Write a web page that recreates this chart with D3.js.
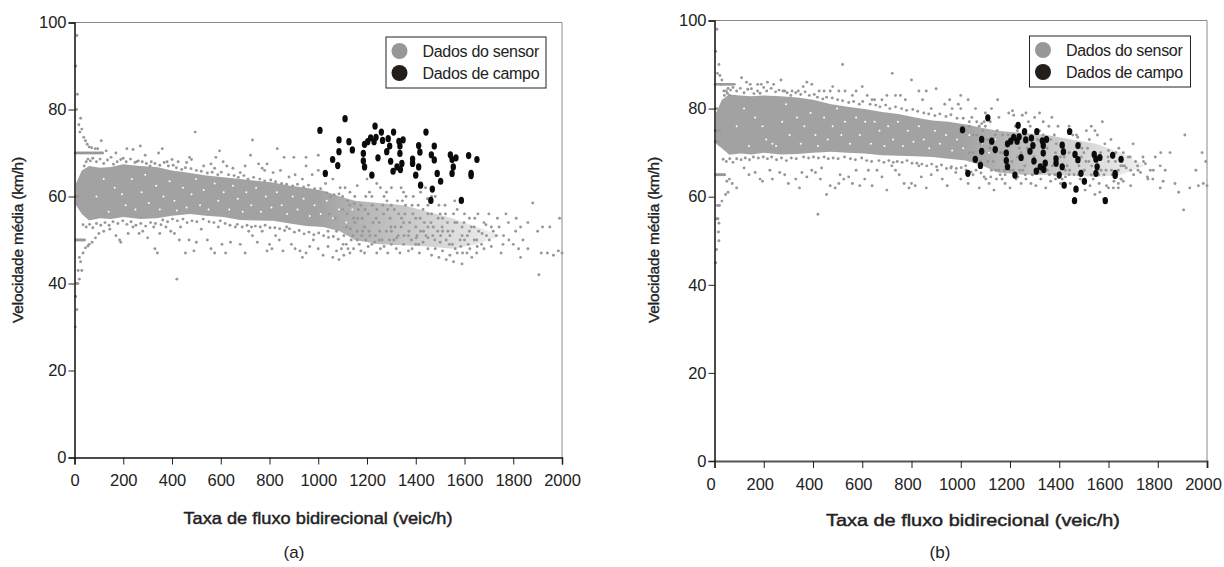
<!DOCTYPE html>
<html><head><meta charset="utf-8"><script src="https://cdn.jsdelivr.net/npm/d3@7"></script>
<style>html,body{margin:0;background:#fff}svg{display:block}text{font-family:"Liberation Sans",Arial,sans-serif;fill:#222}</style></head>
<body><svg id="c" width="1224" height="567"></svg>
<script>
const xTicks=[0,200,400,600,800,1000,1200,1400,1600,1800,2000];
const yTicks=[0,20,40,60,80,100];
const seriesNames=["Dados do sensor","Dados de campo"];
const xTitle="Taxa de fluxo bidirecional (veic/h)";
const yTitle="Velocidade média (km/h)";
const fieldData=[[1007,75.2],[1110,77.9],[1085,73],[1085,70.3],[1059,68.5],[1080,67.1],[1029,65.3],[1126,72.6],[1140,70.7],[1185,69.9],[1185,68.2],[1190,72],[1190,66.8],[1203,72.6],[1215,73.5],[1229,72.6],[1237,73.6],[1233,76.2],[1259,74.8],[1264,72.9],[1287,73.3],[1293,71.6],[1281,70.3],[1245,68.9],[1220,64.9],[1297,68.1],[1307,65.8],[1323,66.8],[1337,66.2],[1343,67.6],[1335,69.9],[1335,71.6],[1331,72.7],[1348,73],[1309,74.8],[1387,68.6],[1387,67.6],[1412,66.8],[1400,64.9],[1412,71.7],[1417,70.2],[1442,74.8],[1476,71.6],[1464,69.6],[1476,68.4],[1488,65.3],[1502,63.5],[1420,62.6],[1468,61.7],[1462,59.1],[1587,59.1],[1542,69.6],[1549,68.5],[1565,68.9],[1554,66.8],[1549,65.3],[1617,69.4],[1651,68.5],[1627,65.3],[1627,64.8]];
// saturated body of the sensor cloud, too dense to read dot by dot: flow, lower and upper speed
const coreFlow=[6,30,60,105,150,200,270,337,400,474,540,610,680,747,815,884,950,1021,1089,1150,1250,1350,1450,1550,1650,1750];
const coreLowA=[58,56,54.5,55,54.8,55.3,54.8,55,55.6,56,55.6,55.3,54.6,54.5,54.4,53.8,53.2,53,52,50,49,48.8,48.5,48,49,51];
const coreHighA=[63,66,67,66.6,66.8,67.4,67,66.8,66,65.4,64.8,64.4,64,63.6,63.2,62.5,62,61.3,60,59,58.5,58,56.5,55,53,51];
const coreLowB=[72,71,69.5,69.8,69.6,70,69.6,69.7,70,70.2,70,69.8,69.4,69.3,69.2,69,68.6,68.2,67,65.5,65,65,64.8,64.5,65,67];
const coreHighB=[79,82,83.2,83,82.8,83,82.8,82.5,82,81,80.4,79.9,79.2,78.8,78,77.3,77,76.4,75.6,75,74.5,74,73,72,70,67];
// flow where the cloud starts to thin out, and where it has become sparse
const thinFlows=[1000,1700];
// small holes visible in the saturated body: flow, speed
const gapsA=[[90,60],[120,64],[140,56.5],[165,62],[195,60.5],[210,58],[235,64],[250,57],[275,61],[290,65],[305,58.5],[335,62.5],[350,57],[365,60],[390,63.5],[410,59],[420,56.8],[445,62],[460,57.5],[480,60.5],[498,64],[515,58],[530,61.5],[550,57],[575,63],[590,59],[612,61],[635,57],[650,62.5],[670,59.5],[690,56.5],[705,61],[725,58],[745,62],[765,56.5],[785,60],[808,57.5],[830,61],[850,58],[872,56],[895,60],[915,57],[940,59.5],[965,55.5],[985,58],[1010,56],[1035,59],[1060,55],[1085,57],[1115,54],[1140,57]];
const gapsB=[[90,76],[120,80],[140,71.5],[165,78],[195,76],[210,73],[235,72],[250,71.5],[275,77],[290,81],[305,74],[335,78],[350,72],[365,76],[390,79],[410,74],[420,71.5],[445,78],[460,73],[480,76],[498,80],[515,74],[530,77],[550,72],[575,78],[590,74],[612,77],[635,72],[650,77],[670,75],[690,71.5],[705,76],[725,73],[745,77],[765,71.5],[785,75],[808,72.5],[830,76],[850,73],[872,71],[895,75],[915,72],[940,74],[965,70.5],[985,73],[1010,71],[1035,74],[1060,69],[1085,72],[1115,70],[1140,73]];
const sensorA=[[10,97],[5,90],[12,83.5],[8,80],[25,78],[18,76.5],[30,75.5],[22,74.8],[38,73.6],[45,72.8],[52,72],[60,71.4],[70,71.2],[110,72.8],[95,71],[130,70.5],[85,71],[3,70],[10,70],[17,70],[24,70],[31,70],[38,70],[45,70],[52,70],[59,70],[66,70],[73,70],[80,70],[87,70],[94,70],[101,70],[108,70],[115,70],[5,50],[11,50],[17,50],[23,50],[29,50],[35,50],[41,50],[3,60],[9,60],[15,60],[20,46],[35,47],[45,48.2],[55,48.6],[25,45],[30,43],[15,43],[20,41],[8,40],[14,40],[5,37],[10,34],[3,30],[60,49],[72,49.5],[86,50.5],[100,51.5],[120,52],[145,52.5],[170,51],[185,50],[190,49.5],[220,51.5],[240,53],[265,51.5],[280,52],[300,50.5],[330,48],[340,47],[325,53],[350,51.5],[355,53.5],[375,53],[395,52],[410,51.5],[430,50],[455,47],[435,53],[470,50],[490,47.5],[500,49.5],[520,52.5],[545,50],[560,48],[575,47],[590,53],[605,49],[620,47],[640,49.5],[660,53],[680,49],[700,47],[715,52],[730,51],[750,49.5],[770,52],[790,47.5],[800,49],[810,48],[825,51],[840,50],[855,47.5],[870,53],[890,49],[905,48],[925,47.5],[935,46],[950,47],[965,48.5],[980,50],[1000,48],[1020,46.5],[1040,48.5],[1060,46],[1075,47.5],[1085,45.5],[1095,48],[1105,46.5],[1115,49],[1130,47],[1145,48],[1160,50],[1175,47.5],[1190,47],[1205,48.5],[1220,49],[1240,47],[1255,48],[1270,48.5],[1285,47],[1300,49],[1320,48],[1335,47],[1350,49],[1370,47.5],[1385,48],[1400,49],[1415,47],[1430,49.5],[1450,48],[1465,46.5],[1480,48],[1495,46],[1510,47.5],[1525,45.5],[1540,46.5],[1555,45],[1570,47],[1590,44.5],[1610,47],[1630,46],[1650,47],[1450,50.5],[1500,49.5],[1550,49],[1600,50],[1650,50],[1680,48],[1710,48.5],[1750,47],[1800,49],[1830,46],[1860,48],[1905,42],[1915,47],[1940,47],[1965,46.5],[1985,47.5],[2000,47],[1920,53],[1950,53],[1990,55],[1880,58.5],[1900,52],[1860,54],[1830,53],[1810,52],[1780,54],[1760,51],[1735,55],[1710,53],[1690,51],[1680,54],[1655,56],[1640,53],[1620,55],[1600,56],[1590,53],[1570,57],[1560,54],[1540,51],[1520,58],[1510,55],[1490,52],[1480,60],[1465,56],[1450,53],[1430,57],[1420,52],[1400,55],[1385,58],[1370,51],[1355,56],[1340,53],[1325,59],[1310,50],[1295,55],[1280,52],[1265,58],[1250,54],[1235,51],[1220,60],[1205,56],[1190,53],[1175,58],[1160,52],[1145,55],[1130,61],[1115,53],[1100,57],[1090,62],[1075,52],[1060,64],[1050,60],[1030,63],[1000,66],[975,65],[950,67],[1390,60],[1420,61],[1450,58],[1500,56],[1530,54],[1560,59],[1590,51],[1620,52],[1640,50],[1700,56],[1670,49],[1730,51],[1770,56],[1840,50],[1120,59],[1150,60],[1180,55],[1210,61],[1240,57],[1270,60],[1300,58],[1330,56],[1360,60],[1410,58],[1440,62],[1470,51],[1510,52],[1105,51],[1135,50],[1165,57],[1195,50],[1225,54],[1255,62],[1285,57],[1315,53],[1345,59],[1375,54],[1405,51],[1435,54],[1465,60],[1495,58],[1525,50],[1555,56],[1585,48.5],[1615,49],[1070,55],[1040,52],[1045,56],[1110,62],[1160,62.5],[1200,64],[1280,61],[1300,62],[1340,62],[1350,61],[1240,63],[1195,60],[1130,58],[1150,54],[1250,50],[1300,52],[1350,54],[1400,53],[1450,56],[170,70],[215,71],[240,70.8],[255,68],[270,71.6],[290,69.5],[315,68],[345,70],[360,71],[380,68],[400,68.5],[425,68],[460,67.8],[472,69],[480,68.5],[495,74.8],[530,67],[560,67.5],[575,66.5],[580,69],[595,70.5],[610,68],[625,67],[650,66.5],[680,65.5],[700,67],[730,73],[722,69.5],[755,67.5],[770,66.5],[790,67.5],[815,65.5],[832,71],[860,69],[845,66],[900,69],[935,64],[950,69],[1000,69.5],[420,41],[780,66],[880,64.5],[905,65],[150,69],[190,68.5]];
const edgeA=[[40,67],[48,68],[55,68.6],[65,68.2],[75,68.8],[90,68],[105,68.6],[120,67.6],[135,68.4],[160,67.4],[175,68],[200,68.8],[212,68],[230,68.6],[248,67.8],[262,68.2],[278,68],[295,67.6],[310,67],[330,67.6],[350,67.2],[368,67.8],[385,67],[405,67.2],[418,66.6],[440,66.2],[455,66.6],[478,66.4],[500,66],[520,65.8],[545,65.4],[565,65.6],[588,65],[602,65.6],[632,65],[655,64.8],[672,64.4],[695,64.8],[712,64],[735,64.4],[760,64],[780,63.6],[805,63.8],[825,63.4],[850,63],[870,62.8],[895,62.4],[915,62.8],[940,62.2],[960,62.6],[985,61.8],[1010,61.8],[1035,60.8],[1065,60.4],[1085,60.6],[35,53.5],[48,53],[62,53.6],[75,52.8],[90,53.8],[108,53.4],[125,54],[142,53.4],[158,54.2],[178,53.8],[198,54.4],[215,53.6],[232,54.2],[252,53.4],[272,53.8],[292,53.2],[312,54],[332,53.8],[362,54.6],[382,54.2],[402,54.8],[422,54.4],[445,54.8],[462,54],[482,54.4],[502,54.2],[528,54.8],[552,54.2],[572,54],[598,54.4],[618,53.8],[638,53.4],[668,53.6],[688,53],[708,53.4],[726,53],[742,53.2],[762,53],[782,53.4],[802,52.8],[822,52.8],[842,52.6],[862,52.2],[882,52.6],[902,51.8],[922,52.2],[942,51.4],[962,51.8],[982,51.2],[1002,51.6],[1022,51],[1042,50.6],[1062,50.8],[1082,50.2],[1100,60],[1118,56],[1132,52.6],[1148,58.4],[1162,55],[1178,51],[1192,57],[1208,52],[1222,58],[1238,55],[1252,52],[1268,56],[1282,59],[1298,53],[1312,57],[1328,51],[1342,55],[1358,58],[1372,52],[1388,56],[1402,50.5],[1418,55],[1432,52],[1448,59.5],[1462,54],[1478,50],[1492,55],[1508,53],[1522,56],[1538,49],[1552,52],[1568,54],[1582,50],[1598,54],[1612,51],[1628,53],[1642,55],[1658,52],[1672,51.5],[1688,53.5],[1702,50],[1718,52],[1742,53],[1758,49],[1782,50],[1812,55],[1822,48],[1102,49],[1122,48],[1142,51],[1168,49],[1182,52],[1212,51],[1232,49.5],[1262,50],[1292,50],[1322,50.5],[1352,51],[1382,50],[1412,49],[1442,51],[1472,53],[1502,51],[1532,52],[1562,48],[1592,47],[1622,48],[1652,48.5]];
const sensorB=[[10,98],[5,93],[18,90],[12,88],[22,87.5],[30,86.5],[28,85.5],[38,84],[52,83.5],[60,83],[110,87],[130,86],[145,85.5],[175,85.5],[3,85.5],[10,85.5],[17,85.5],[24,85.5],[31,85.5],[38,85.5],[45,85.5],[52,85.5],[59,85.5],[66,85.5],[73,85.5],[80,85.5],[5,65],[11,65],[17,65],[23,65],[29,65],[35,65],[41,65],[3,75],[9,75],[15,75],[21,75],[3,80],[9,80],[3,72.5],[9,72.5],[15,72.5],[60,64],[50,63.5],[72,63],[90,62],[55,61],[45,60.5],[30,59],[20,58],[12,58],[8,55],[14,55],[18,54],[16,52],[18,50],[8,48],[5,45],[120,66.5],[140,65],[165,65.5],[185,64],[195,63.5],[225,66],[235,64],[265,65.5],[285,65],[300,63],[330,64],[345,62],[355,65.5],[375,64.5],[395,66],[410,65.5],[430,64],[455,60.5],[435,66.5],[470,62.5],[490,62],[505,63],[510,65],[525,64],[545,64.5],[560,63],[575,66],[590,62.5],[610,64],[625,66],[640,62.5],[660,66],[680,64.5],[700,61.5],[720,67],[735,66],[750,65],[770,63],[790,62],[800,63],[815,62.5],[830,67],[840,64.5],[860,62],[880,65],[905,66],[925,64],[945,62.5],[960,66.5],[980,65.5],[1000,64],[1030,63],[1050,65],[1075,62],[1095,64.5],[1115,63],[1135,61.5],[1145,64],[1160,65],[1180,63],[1200,62],[1225,64],[1245,63],[1265,64],[1285,63],[1305,62.5],[1325,64],[1345,62],[1365,63.5],[1385,64],[1405,63],[1425,64.5],[1445,63],[1465,62],[1485,64],[1505,61.5],[1525,62.5],[1545,60.5],[1565,61],[1580,59.5],[1600,62],[1620,62],[1640,63],[1690,62.5],[1660,63.5],[1810,62],[1870,63],[1885,61],[1905,57],[1930,62],[1965,62.5],[1985,63],[2000,62.5],[1955,66],[1980,70],[1995,68],[1910,74],[1850,70],[1830,66],[1810,67],[1790,69],[1770,66],[1750,67.5],[1730,65.5],[1710,68],[1690,66],[1680,69],[1665,67],[1650,64],[1630,70],[1615,65],[1600,68],[1585,72],[1570,66],[1555,74],[1540,69],[1530,76],[1515,71],[1500,66],[1485,72],[1470,68],[1455,74],[1440,70],[1425,66],[1410,72],[1395,76],[1380,69],[1365,73],[1350,66],[1335,71],[1320,75],[1305,68],[1290,72],[1275,77],[1260,67],[1245,70],[1230,75],[1215,78.5],[1200,72],[1185,68],[1170,74],[1155,78],[1140,70],[1125,66],[1110,73],[1095,77],[1080,68],[1065,74],[1050,70],[1035,76],[1020,67],[1575,77],[1545,75],[1510,75],[1475,73.5],[1440,76],[1405,69],[1370,78],[1335,77],[1300,78],[1265,79],[1195,79],[1150,82],[1125,80],[1100,79],[1075,76],[1060,80],[1045,78],[1030,82],[1000,83],[1610,73],[1640,66],[1660,70],[1700,72],[1740,69],[1780,64],[1590,66],[1560,69],[1530,65],[1500,70],[1470,74],[1440,65],[1410,67],[1380,74],[1350,71],[1320,67],[1290,65],[1260,74],[1230,69],[1200,66],[1170,70],[1140,74],[1110,68],[1080,72],[1050,74],[1180,65],[1240,66],[1300,66],[1360,65],[1420,69],[1480,67],[1520,68],[1600,70.5],[1650,67],[1720,66],[1760,64],[1640,62],[1560,65],[1490,69],[1385,70],[1460,65],[1335,74],[1270,71],[1215,74],[1155,66],[1090,75],[1020,75],[1035,70],[1065,68],[1120,77],[185,83.5],[215,86],[240,85.5],[270,86.5],[285,84],[315,84],[340,84],[360,85],[375,86],[395,85.5],[425,84],[445,84],[470,84],[505,84],[520,90],[530,84],[560,83],[575,84],[600,85],[620,83],[650,82],[680,82],[700,83],[722,88],[735,83],[755,83],[775,82],[800,86.5],[830,84],[845,82],[860,84],[900,84.5],[935,81],[955,82],[1000,80],[420,56],[880,80],[965,80],[150,84.5],[190,85.5],[480,85],[640,82],[990,81],[1320,79],[1210,79.5],[1250,78.5]];
const edgeB=[[40,83],[48,84],[55,84.6],[65,84.2],[75,84.8],[90,84],[105,84.6],[120,83.6],[135,84.4],[160,83.4],[175,84],[200,84.8],[212,84],[230,84.6],[248,83.8],[262,84.2],[278,84],[295,83.6],[310,83],[330,83.6],[350,83.2],[368,83.8],[385,83],[405,83.2],[418,82.6],[440,82.2],[455,82.6],[478,82.4],[500,82],[520,81.8],[545,81.4],[565,81.6],[588,81],[602,81.6],[632,81],[655,80.8],[672,80.4],[695,80.8],[712,80],[735,80.4],[760,80],[780,79.6],[805,79.8],[825,79.4],[850,79],[870,78.8],[895,78.4],[915,78.8],[940,78.2],[960,78.6],[985,77.8],[1010,77.8],[1035,77],[1065,77],[1085,76.6],[35,68.5],[48,68],[62,68.6],[75,67.8],[90,68.6],[108,68.4],[125,68.8],[142,68.4],[158,69],[178,68.8],[198,69],[215,68.6],[232,69],[252,68.4],[272,68.8],[292,68.2],[312,68.8],[332,68.6],[362,69],[382,68.8],[402,69],[422,68.8],[445,69],[462,68.6],[482,68.8],[502,68.6],[528,69],[552,68.6],[572,68.4],[598,68.8],[618,68.2],[638,68],[668,68.2],[688,67.8],[708,68.2],[726,67.8],[742,68],[762,67.8],[782,68.2],[802,67.6],[822,67.6],[842,67.4],[862,67],[882,67.4],[902,66.8],[922,67.2],[942,66.4],[962,66.8],[982,66.4],[1002,66.6],[1022,66],[1042,65.6],[1062,66],[1082,65.4],[1100,76],[1118,71],[1132,68],[1148,75],[1162,70],[1178,66],[1192,74],[1208,68],[1222,76],[1238,71],[1252,66],[1268,73],[1282,76],[1298,69],[1312,73],[1328,66],[1342,72],[1358,76],[1372,67],[1388,72],[1402,65.5],[1418,71],[1432,67],[1448,75],[1462,70],[1478,65],[1492,71],[1508,68],[1522,73],[1538,64],[1552,67],[1568,70],[1582,65],[1598,69],[1612,66],[1628,68],[1642,71],[1658,67],[1672,66.5],[1688,69],[1702,65],[1718,67],[1742,68],[1758,64.5],[1782,66],[1812,70],[1822,63.5],[1102,64],[1122,64.5],[1142,66],[1168,64],[1182,67],[1212,66],[1232,64.5],[1262,65],[1292,65],[1322,65.5],[1352,66],[1382,65],[1412,64],[1442,66],[1472,68],[1502,66],[1532,67],[1562,63],[1592,62.5],[1622,63.5],[1652,64]];

const svg=d3.select("#c");
const defs=svg.append("defs");
const sensorColor="#979797",coreColor="#a2a2a2",thinColor="#ececec",fieldColor="#0b0b0b",legendField="#221e1c",frame="#8a8a8a";
function panel(p){
  const x=d3.scaleLinear().domain([0,2000]).range([p.x0,p.x1]);
  const y=d3.scaleLinear().domain([0,100]).range([p.y0,p.y1]);
  const g=svg.append("g");
  const grad=defs.append("linearGradient").attr("id","thin"+p.cap[1]).attr("gradientUnits","userSpaceOnUse")
    .attr("x1",x(thinFlows[0])).attr("x2",x(thinFlows[1])).attr("y1",0).attr("y2",0);
  grad.append("stop").attr("offset",0).attr("stop-color",coreColor);
  grad.append("stop").attr("offset",1).attr("stop-color",thinColor);
  g.append("path").attr("d",`M${p.x0},${p.y1}H${p.x1}V${p.y0}`).attr("fill","none").attr("stroke",frame).attr("stroke-width",1);
  const band=d3.area().x(d=>x(d)).y0((d,i)=>y(p.low[i])).y1((d,i)=>y(p.high[i]))(coreFlow);
  g.append("path").attr("d",band).attr("fill",`url(#thin${p.cap[1]})`);
  g.selectAll("circle.g").data(p.gaps).join("circle").attr("class","g").attr("cx",d=>x(d[0])).attr("cy",d=>y(d[1])).attr("r",1).attr("fill","#fff");
  g.selectAll("circle.s").data(p.sensor).join("circle").attr("class","s").attr("cx",d=>x(d[0])).attr("cy",d=>y(d[1])).attr("r",1.45).attr("fill",sensorColor);
  g.selectAll("ellipse").data(fieldData).join("ellipse").attr("cx",d=>x(d[0])).attr("cy",d=>y(d[1])).attr("rx",2.7).attr("ry",3.6).attr("fill",fieldColor);
  const ax=g.append("g").attr("transform",`translate(0,${p.y0})`).call(d3.axisBottom(x).tickValues(xTicks).tickSize(7).tickPadding(10).tickFormat(d3.format("d")));
  const ay=g.append("g").attr("transform",`translate(${p.x0},0)`).call(d3.axisLeft(y).tickValues(yTicks).tickSize(6).tickPadding(2));
  [ax,ay].forEach(a=>{a.selectAll("text").attr("font-size",16.5).attr("fill","#222").attr("font-family","Liberation Sans");
    a.select(".domain").attr("stroke","#111").attr("stroke-width",1.5);a.selectAll("line").attr("stroke","#222");});
  ax.selectAll("text").attr("dx",p.tickDx);
  ax.select(".domain").attr("stroke",p.baseColor).attr("stroke-width",p.baseW);
  g.append("text").attr("x",p.xtx).attr("y",p.xty).attr("text-anchor","middle").attr("font-size",17).attr("stroke","#222").attr("stroke-width",0.45).attr("textLength",p.xlen).attr("lengthAdjust","spacingAndGlyphs").text(xTitle);
  g.append("text").attr("transform",`translate(${p.ytx},${p.yty}) rotate(-90)`).attr("text-anchor","middle").attr("font-size",15.5).attr("stroke","#222").attr("stroke-width",0.35).style("letter-spacing","-0.2px").text(yTitle);
  g.append("text").attr("x",p.capx).attr("y",p.capy).attr("text-anchor","middle").attr("font-size",17).text(p.cap);
  const l=g.append("g");
  l.append("rect").attr("x",p.lx).attr("y",p.ly).attr("width",p.lw).attr("height",51).attr("fill","#fff").attr("stroke","#222").attr("stroke-width",1);
  seriesNames.forEach((n,i)=>{
    l.append("circle").attr("cx",p.lx+13.5).attr("cy",p.ly+14+i*22).attr("r",8).attr("fill",i?legendField:"#979797");
    l.append("text").attr("x",p.lx+36.5).attr("y",p.ly+20+i*22).attr("font-size",16).style("letter-spacing","-0.3px").text(n);
  });
}
panel({x0:74.5,x1:562,y0:457.5,y1:22.5,low:coreLowA,high:coreHighA,gaps:gapsA,sensor:sensorA.concat(edgeA),xtx:318,xty:524,xlen:269,tickDx:0,baseColor:"#111",baseW:1.5,ytx:23,yty:240,capx:294,capy:558,cap:"(a)",lx:386,ly:37,lw:160});
panel({x0:714.5,x1:1207,y0:461,y1:20.5,low:coreLowB,high:coreHighB,gaps:gapsB,sensor:sensorB.concat(edgeB),xtx:973,xty:526,xlen:294,tickDx:-4,baseColor:"#555",baseW:2,ytx:659,yty:240,capx:940,capy:558,cap:"(b)",lx:1029.5,ly:36,lw:161});
</script></body></html>
